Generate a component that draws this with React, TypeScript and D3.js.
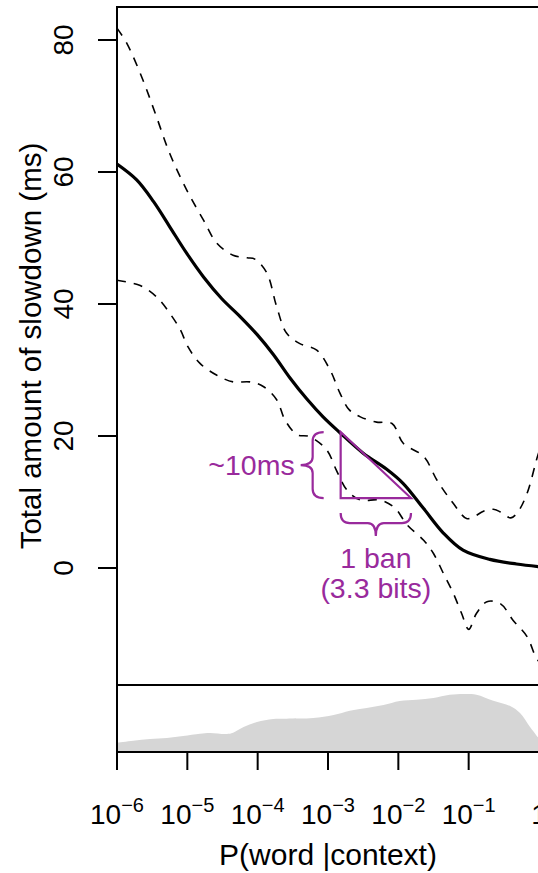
import React from "react";
import * as d3 from "d3";

// log10 P(word | context) positions and the estimated slowdown (ms)
const meanLogP = [-6, -5.72, -5.48, -5.25, -5.01, -4.77, -4.51, -4.25, -4.01, -3.78, -3.54, -3.3, -3.07, -2.83, -2.5, -2.17, -1.93, -1.64, -1.36, -1.08, -0.7, -0.32, 0];
const meanMs = [61.2, 58.8, 55.5, 51.7, 47.7, 44.1, 40.8, 38.1, 35.4, 32.4, 28.8, 25.6, 22.9, 20.5, 17.4, 15.0, 12.8, 9.0, 5.3, 2.7, 1.3, 0.6, 0.2];

// upper confidence bound
const upperLogP = [-6, -5.86, -5.63, -5.44, -5.25, -5.01, -4.77, -4.58, -4.35, -4.15, -4.04, -3.87, -3.73, -3.59, -3.4, -3.16, -2.97, -2.83, -2.7, -2.54, -2.31, -2.09, -1.93, -1.64, -1.45, -1.22, -1.03, -0.92, -0.79, -0.65, -0.55, -0.4, -0.3, -0.17, -0.03, 0];
const upperMs = [81.8, 79.5, 73.9, 68.4, 62.8, 57.3, 52.7, 49.2, 47.4, 47.0, 46.8, 44.7, 39.6, 35.6, 34.0, 33.0, 30.0, 26.5, 24.0, 22.9, 22.1, 21.9, 18.9, 16.9, 13.3, 9.8, 7.5, 7.8, 8.6, 8.9, 8.5, 7.6, 8.5, 11.3, 16.6, 17.6];

// lower confidence bound
const lowerLogP = [-6, -5.67, -5.44, -5.25, -5.1, -4.99, -4.82, -4.58, -4.35, -4.11, -3.92, -3.73, -3.61, -3.44, -3.26, -3.02, -2.88, -2.73, -2.54, -2.26, -2.05, -1.88, -1.64, -1.5, -1.36, -1.22, -1.1, -1.0, -0.89, -0.74, -0.55, -0.37, -0.17, -0.05, 0];
const lowerMs = [43.6, 42.8, 41.1, 38.6, 36.1, 33.5, 31.0, 29.2, 28.2, 28.2, 27.5, 25.5, 22.4, 20.2, 19.9, 17.9, 14.8, 11.8, 10.3, 10.3, 9.1, 6.6, 4.2, 2.2, -0.8, -3.8, -6.9, -9.3, -6.9, -5.1, -5.4, -7.9, -10.4, -13.4, -14.2];

// relative density of words over log10 P(word | context)
const densLogP = [-6, -5.77, -5.53, -5.29, -5.06, -4.82, -4.68, -4.44, -4.35, -4.2, -4.01, -3.78, -3.59, -3.21, -2.92, -2.69, -2.45, -2.21, -1.98, -1.74, -1.5, -1.27, -1.03, -0.89, -0.65, -0.41, -0.27, -0.13, 0];
const densVal = [0.139, 0.169, 0.194, 0.209, 0.239, 0.273, 0.284, 0.269, 0.288, 0.373, 0.448, 0.493, 0.497, 0.507, 0.552, 0.616, 0.657, 0.701, 0.761, 0.781, 0.806, 0.855, 0.866, 0.855, 0.766, 0.687, 0.582, 0.378, 0.2];

const xTicks = [-6, -5, -4, -3, -2, -1, 0];
const yTicks = [0, 20, 40, 60, 80];

// slope annotation: one decade (1 ban) against ~10 ms
const slopeLogP = [-2.82, -1.82];
const slopeMs = [10.6, 20.6];
const slopeLabelY = "~10ms";
const slopeLabelX1 = "1 ban";
const slopeLabelX2 = "(3.3 bits)";

const W = 538;
const H = 873;
const FONT = "'Liberation Sans', Arial, Helvetica, sans-serif";
const PURPLE = "#992a9c";

const left = 117;
const right = 539;
const mainTop = 7;
const mainBottom = 685;
const densBottom = 752;

function zip(xs: number[], ys: number[]): [number, number][] {
  return xs.map((x, i) => [x, ys[i]]);
}

export default function App() {
  const x = d3.scaleLinear().domain([-6, 0]).range([left, right]);
  const y = d3.scaleLinear().domain([0, 80]).range([568, 40]);
  const yd = d3.scaleLinear().domain([0, 1]).range([densBottom, mainBottom]);

  const line = d3
    .line<[number, number]>()
    .x((d) => x(d[0]))
    .y((d) => y(d[1]))
    .curve(d3.curveCatmullRom.alpha(0.5));

  const area = d3
    .area<[number, number]>()
    .x((d) => x(d[0]))
    .y0(densBottom)
    .y1((d) => yd(d[1]))
    .curve(d3.curveCatmullRom.alpha(0.5));

  // triangle corners
  const tx0 = x(slopeLogP[0]);
  const tx1 = x(slopeLogP[1]);
  const ty0 = y(slopeMs[1]);
  const ty1 = y(slopeMs[0]);

  // left curly brace beside the triangle
  const bTip = tx0 - 17;
  const bBody = tx0 - 28;
  const bPoint = tx0 - 40;
  const bMid = (ty0 + ty1) / 2;
  const vBrace = [
    `M${bTip},${ty0}`,
    `Q${bBody},${ty0} ${bBody},${ty0 + 9}`,
    `L${bBody},${bMid - 8}`,
    `Q${bBody},${bMid} ${bPoint},${bMid}`,
    `Q${bBody},${bMid} ${bBody},${bMid + 8}`,
    `L${bBody},${ty1 - 9}`,
    `Q${bBody},${ty1} ${bTip},${ty1}`,
  ].join(" ");

  // curly brace under the triangle
  const hTip = ty1 + 15;
  const hBody = ty1 + 25;
  const hPoint = ty1 + 38;
  const hMid = (tx0 + tx1) / 2;
  const hBrace = [
    `M${tx0},${hTip}`,
    `Q${tx0},${hBody} ${tx0 + 9},${hBody}`,
    `L${hMid - 8},${hBody}`,
    `Q${hMid},${hBody} ${hMid},${hPoint}`,
    `Q${hMid},${hBody} ${hMid + 8},${hBody}`,
    `L${tx1 - 9},${hBody}`,
    `Q${tx1},${hBody} ${tx1},${hTip}`,
  ].join(" ");

  return (
    <svg
      width={W}
      height={H}
      style={{ position: "absolute", left: 0, top: 0, background: "#fff" }}
      fontFamily={FONT}
    >
      <defs>
        <clipPath id="mainClip">
          <rect x={left} y={mainTop} width={right - left} height={mainBottom - mainTop} />
        </clipPath>
        <clipPath id="densClip">
          <rect x={left} y={mainBottom} width={right - left} height={densBottom - mainBottom} />
        </clipPath>
      </defs>

      {/* density panel */}
      <path d={area(zip(densLogP, densVal)) || ""} fill="#d6d6d6" clipPath="url(#densClip)" />

      {/* curves */}
      <g clipPath="url(#mainClip)" fill="none">
        <path d={line(zip(upperLogP, upperMs)) || ""} stroke="#000" strokeWidth={1.6} strokeDasharray="9,8" />
        <path d={line(zip(lowerLogP, lowerMs)) || ""} stroke="#000" strokeWidth={1.6} strokeDasharray="9,8" />
        <path d={line(zip(meanLogP, meanMs)) || ""} stroke="#000" strokeWidth={3.2} />
      </g>

      {/* panel frames */}
      <g fill="none" stroke="#000" strokeWidth={2}>
        <rect x={left} y={mainTop} width={right - left + 10} height={mainBottom - mainTop} />
        <line x1={left} x2={right + 10} y1={densBottom} y2={densBottom} />
        <line x1={left} x2={left} y1={mainBottom} y2={densBottom} />
      </g>

      {/* y axis */}
      <g>
        {yTicks.map((t) => (
          <g key={t}>
            <line x1={left - 19} x2={left} y1={y(t)} y2={y(t)} stroke="#000" strokeWidth={2} />
            <text
              transform={`translate(${left - 44},${y(t)}) rotate(-90)`}
              textAnchor="middle"
              fontSize={28}
            >
              {t}
            </text>
          </g>
        ))}
        <text
          transform={`translate(41,${(mainTop + mainBottom) / 2}) rotate(-90)`}
          textAnchor="middle"
          fontSize={29.5}
        >
          Total amount of slowdown (ms)
        </text>
      </g>

      {/* x axis */}
      <g>
        {xTicks.map((t) => (
          <g key={t}>
            <line x1={x(t)} x2={x(t)} y1={densBottom} y2={densBottom + 18} stroke="#000" strokeWidth={2} />
            {t === 0 ? (
              <text x={x(t)} y={824} textAnchor="middle" fontSize={28}>
                1
              </text>
            ) : (
              <text x={x(t)} y={824} textAnchor="middle" fontSize={28}>
                <tspan>10</tspan>
                <tspan dy={-12} fontSize={20}>
                  {"\u2212" + Math.abs(t)}
                </tspan>
              </text>
            )}
          </g>
        ))}
        <text x={(left + right) / 2} y={865} textAnchor="middle" fontSize={30} style={{ whiteSpace: "pre" }}>
          P(word |context)
        </text>
      </g>

      {/* slope annotation */}
      <g stroke={PURPLE} strokeWidth={2.2} fill="none">
        <path d={`M${tx0},${ty0} L${tx0},${ty1} L${tx1},${ty1} Z`} strokeLinejoin="miter" />
        <path d={vBrace} />
        <path d={hBrace} />
      </g>
      <g fill={PURPLE} fontSize={28.5}>
        <text x={bPoint - 6} y={bMid + 10} textAnchor="end">
          {slopeLabelY}
        </text>
        <text x={hMid} y={568} textAnchor="middle">
          {slopeLabelX1}
        </text>
        <text x={hMid} y={598} textAnchor="middle">
          {slopeLabelX2}
        </text>
      </g>
    </svg>
  );
}
